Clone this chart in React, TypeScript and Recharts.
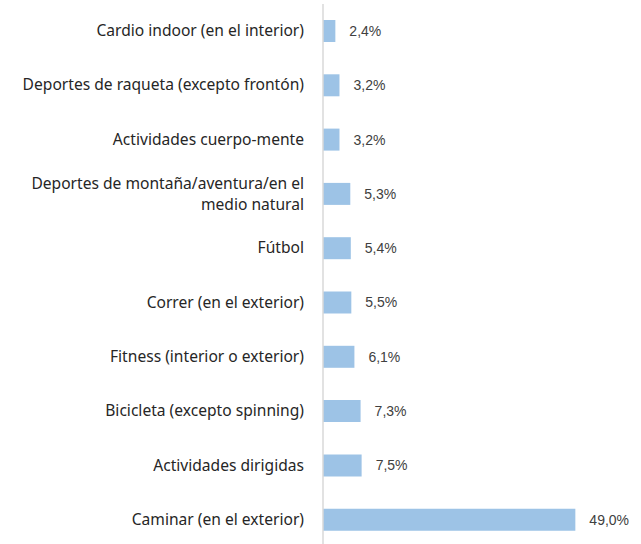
import { BarChart, Bar, XAxis, YAxis, LabelList } from 'recharts'

const categories = [
  'Cardio indoor (en el interior)',
  'Deportes de raqueta (excepto frontón)',
  'Actividades cuerpo-mente',
  'Deportes de montaña/aventura/en el medio natural',
  'Fútbol',
  'Correr (en el exterior)',
  'Fitness (interior o exterior)',
  'Bicicleta (excepto spinning)',
  'Actividades dirigidas',
  'Caminar (en el exterior)',
]

const values = [2.4, 3.2, 3.2, 5.3, 5.4, 5.5, 6.1, 7.3, 7.5, 49.0]

const wrapped: Record<string, string[]> = {
  'Deportes de montaña/aventura/en el medio natural': [
    'Deportes de montaña/aventura/en el',
    'medio natural',
  ],
}

const data = categories.map((name, i) => ({ name, value: values[i] }))

function CategoryTick({ x, y, payload }: any) {
  const lines = wrapped[payload.value] ?? [payload.value]
  const start = -((lines.length - 1) * 21) / 2
  return (
    <text
      x={x - 11}
      y={y}
      textAnchor="end"
      fill="#262626"
      fontSize={15.6}
      fontFamily="'Noto Sans', sans-serif"
    >
      {lines.map((line, i) => (
        <tspan key={i} x={x - 11} dy={i === 0 ? start + 5 : 21}>
          {line}
        </tspan>
      ))}
    </text>
  )
}

const fmt = (v: any) => `${Number(v).toFixed(1).replace('.', ',')}%`

export default function App() {
  return (
    <div
      style={{
        position: 'absolute',
        left: 0,
        top: 0,
        width: 641,
        height: 544,
        overflow: 'hidden',
        background: '#fff',
      }}
    >
      <BarChart
        width={641}
        height={547}
        data={data}
        layout="vertical"
        margin={{ top: 4, right: 9, bottom: 0, left: 0 }}
      >
        <XAxis type="number" domain={[0, 60]} hide />
        <YAxis
          type="category"
          dataKey="name"
          width={323}
          axisLine={{ stroke: '#d9d9d9', strokeWidth: 1.5 }}
          tickLine={false}
          tick={<CategoryTick />}
          interval={0}
        />
        <Bar dataKey="value" fill="#9dc3e6" barSize={22} isAnimationActive={false}>
          <LabelList
            dataKey="value"
            position="right"
            offset={14}
            formatter={fmt}
            style={{ fill: '#404040', fontSize: 14, fontFamily: "'Liberation Sans', Arial, sans-serif" }}
          />
        </Bar>
      </BarChart>
    </div>
  )
}
